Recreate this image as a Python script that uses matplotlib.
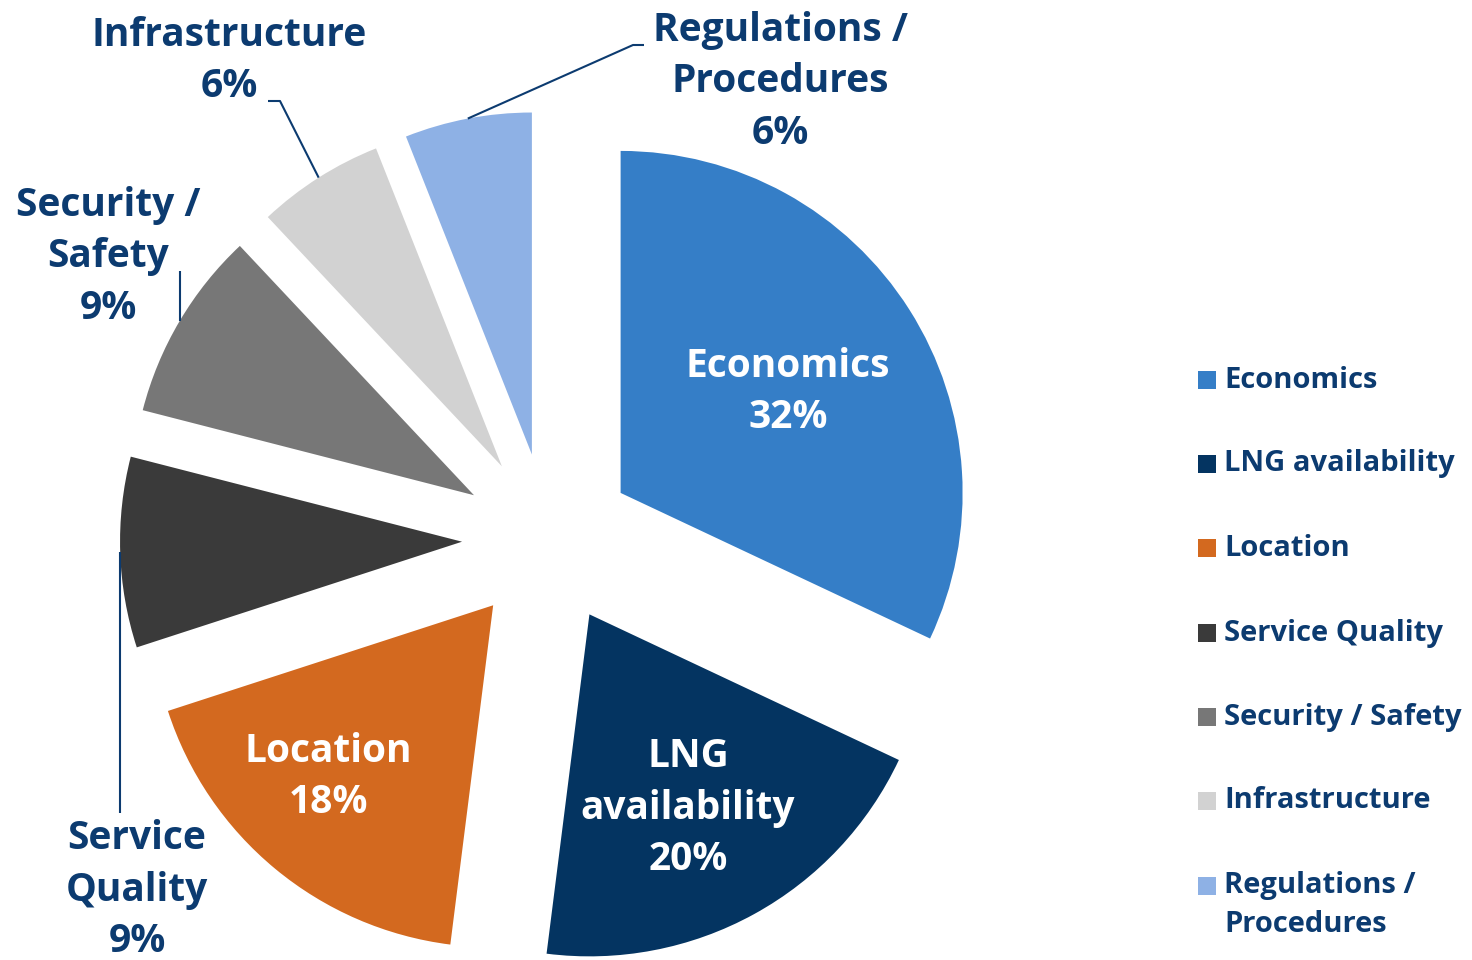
import numpy as np
import matplotlib
matplotlib.use("Agg")
from matplotlib import pyplot as plt

plt.rcParams['font.family'] = ['Open Sans', 'DejaVu Sans']
plt.rcParams['font.weight'] = 'bold'

# 数据
labels = ["Economics", "LNG availability", "Location", "Service Quality",
          "Security / Safety", "Infrastructure", "Regulations / Procedures"]
values = [32, 20, 18, 9, 9, 6, 6]
colors = ["#357EC7", "#043461", "#D3691F", "#3A3A3A", "#777777", "#D2D2D2", "#8EB1E5"]
legend_labels = ["Economics", "LNG availability", "Location", "Service Quality",
                 "Security / Safety", "Infrastructure", "Regulations /\nProcedures"]
# 饼图上的标签文字
slice_text = ["Economics", "LNG\navailability", "Location", "Service\nQuality",
              "Security /\nSafety", "Infrastructure", "Regulations /\nProcedures"]

navy = "#0C3B70"
W, H = 1472, 960

fig = plt.figure(figsize=(W / 100, H / 100), dpi=100)
ax = fig.add_axes([0, 0, 1, 1])

R = 342
cx, cy = 548, H - 539
# explode 在 pie 里是绝对长度
wedges, _ = ax.pie(values, colors=colors, startangle=90, counterclock=False,
                   explode=[86] * len(values), radius=R, center=(cx, cy),
                   wedgeprops=dict(linewidth=0), frame=True)
ax.set_xlim(0, W)
ax.set_ylim(0, H)
ax.set_aspect('equal')
ax.axis('off')

def point_on(w, frac):
    # 扇形中线上的点, frac 为半径比例
    ang = np.deg2rad((w.theta1 + w.theta2) / 2)
    x0, y0 = w.center
    return x0 + frac * w.r * np.cos(ang), y0 + frac * w.r * np.sin(ang)

# 内部标签
inside = {0: (788, 392), 1: (688, 808), 2: (328, 777)}
for i, (x, y) in inside.items():
    ax.text(x, H - y, f"{slice_text[i]}\n{values[i]}%", color="white", fontsize=28,
            ha="center", va="center", linespacing=1.43)

# 外部标签和引线
outside = {
    6: ((780, H - 82), [(644, H - 45), (633, H - 45)]),
    5: ((229, H - 61), [(268, H - 101), (280, H - 101)]),
    4: ((108, H - 257), [(None, H - 271)]),
    3: ((137, H - 890), [(None, H - 813)]),
}
for i, (txt_xy, elbow) in outside.items():
    ax.text(*txt_xy, f"{slice_text[i]}\n{values[i]}%", color=navy, fontsize=28,
            ha="center", va="center", linespacing=1.43)
    ax_, ay_ = point_on(wedges[i], 1.0)
    pts = [(ax_ if x is None else x, y) for x, y in elbow] + [(ax_, ay_)]
    xs, ys = zip(*pts)
    ax.plot(xs, ys, color=navy, lw=1.5, solid_capstyle='butt')

# 图例
ys = [380, 464, 548, 633, 717, 801, 886]
for c, lab, y in zip(colors, legend_labels, ys):
    ax.scatter(1207, H - y, marker="s", s=170, color=c, linewidths=0)
    if "\n" in lab:
        y = y + 19
    ax.text(1224, H - y, lab, color=navy, fontsize=21, ha="left", va="center",
            linespacing=1.45)

fig.savefig("out.png", dpi=100)
